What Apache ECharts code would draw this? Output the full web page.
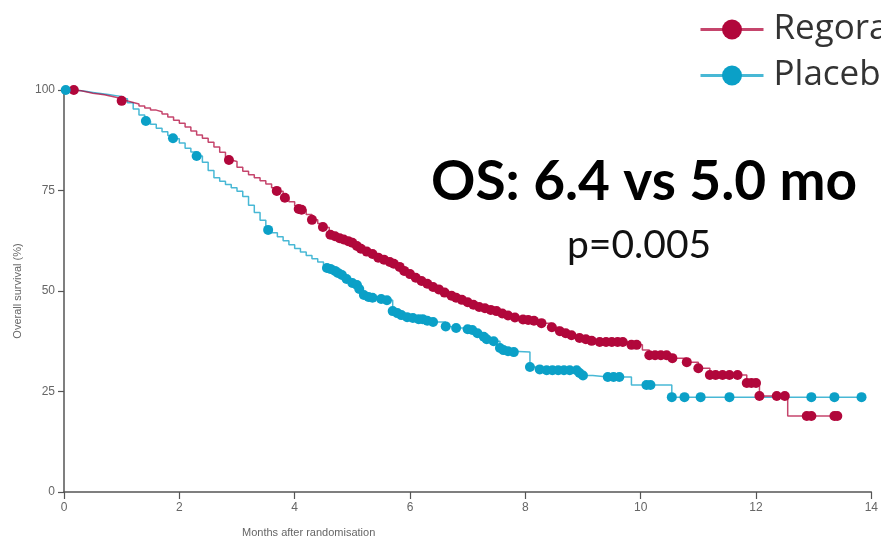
<!DOCTYPE html>
<html>
<head>
<meta charset="utf-8">
<script src="https://cdn.jsdelivr.net/npm/echarts@6/dist/echarts.min.js"></script>
<style>html,body{margin:0;padding:0;background:#fff;}#c{width:881px;height:539px;}</style>
</head>
<body>
<div id="c"></div>
<script>
// ---- data ----
const seriesNames = ['Regorafenib', 'Placebo'];
const xTicks = [0, 2, 4, 6, 8, 10, 12, 14];
const yTicks = [0, 25, 50, 75, 100];
const titleText = 'OS: 6.4 vs 5.0 mo';
const pText = 'p=0.005';
const xAxisName = 'Months after randomisation';
const yAxisName = 'Overall survival (%)';

// Kaplan-Meier step points [month, survival %]
const regoEvents = [
  [0,100],[0.1,100],[0.2,99.8],[0.3,99.5],[0.4,99.2],[0.5,99],[0.6,98.8],[0.7,98.5],[0.8,98.2],[0.9,97.8],
  [1.0,97.3],[1.1,96.9],[1.2,96.5],[1.3,96],[1.4,95.5],[1.5,95],[1.6,94.6],[1.7,94],[1.8,93.3],[1.9,92.5],
  [2.0,91.7],[2.1,90.8],[2.2,89.8],[2.3,88.8],[2.4,88],[2.5,87],[2.6,85.8],[2.7,84.5],[2.8,83.3],[2.9,82.2],
  [3.0,80.8],[3.1,79.8],[3.2,78.9],[3.3,78.2],[3.4,77.4],[3.5,76.6],[3.6,75.7],[3.7,74.8],[3.8,73.2],[3.9,72.2],
  [4.0,71.2],[4.1,70.2],[4.2,69],[4.3,67.7],[4.4,66.8],[4.5,65.8],[4.6,64.3],[4.9,62.5],[5.18,60],
  [5.45,58.3],[5.77,56.5],[5.95,54.5],[6.12,52.7],[6.4,51],[6.69,49],[6.95,47.5],[7.21,46],
  [7.5,45],[7.78,43.5],[8.0,42.8],[8.28,42],[8.46,41],[8.6,40],[8.8,39],[8.94,38.3],[9.29,37.3],
  [9.84,36.6],[10.03,35.3],[10.15,34],[10.55,33.3],[10.8,32.3],[11.0,30.8],[11.2,29.1],
  [11.84,27.1],[12.06,23.9],[12.55,18.9],[13.41,18.9]
];
const regoCensored = [
  [0.17,100],[1.0,97.3],[2.86,82.6],[3.69,74.9],[3.83,73.2],[4.07,70.4],[4.12,70.2],[4.3,67.7],[4.49,65.9],
  [4.62,64],[4.7,63.6],[4.78,63.1],[4.85,62.8],[4.93,62.4],[5.0,62],[5.08,61.2],[5.15,60.5],[5.25,59.8],
  [5.35,59.2],[5.45,58.3],[5.55,57.8],[5.65,57.2],[5.72,56.8],[5.82,56],[5.9,55],[6.0,54.2],[6.1,53.3],
  [6.2,52.5],[6.3,51.8],[6.4,51],[6.5,50.4],[6.6,49.6],[6.72,48.8],[6.8,48.3],[6.9,47.8],[7.0,47.2],
  [7.1,46.6],[7.2,46],[7.3,45.7],[7.4,45.3],[7.5,45],[7.6,44.4],[7.7,43.9],[7.82,43.4],[7.96,42.9],
  [8.05,42.8],[8.15,42.6],[8.28,42],[8.46,41],[8.6,40],[8.7,39.5],[8.8,39],[8.94,38.3],[9.05,38],
  [9.15,37.6],[9.29,37.3],[9.4,37.3],[9.5,37.3],[9.6,37.3],[9.69,37.3],[9.84,36.6],[9.93,36.6],
  [10.15,34],[10.25,34],[10.35,34],[10.45,34],[10.55,33.3],[10.8,32.3],[11.0,30.8],[11.2,29.1],
  [11.3,29.1],[11.42,29.1],[11.54,29.1],[11.68,29.1],[11.84,27.1],[11.92,27.1],[12.0,27.1],
  [12.06,23.9],[12.36,23.9],[12.5,23.9],[12.88,18.9],[12.96,18.9],[13.36,18.9],[13.41,18.9]
];
const placeboEvents = [
  [0,100],[0.1,100],[0.2,99.8],[0.3,99.6],[0.4,99.4],[0.5,99.2],[0.6,99],[0.7,98.8],[0.8,98.6],[0.9,98.4],
  [1.0,97.8],[1.1,96.8],[1.2,95.3],[1.3,93.8],[1.4,92.4],[1.5,91.5],[1.6,90.5],[1.7,89.6],[1.8,88.7],[1.9,87.9],
  [2.0,86.8],[2.1,85.5],[2.2,84.6],[2.3,83.6],[2.4,82],[2.5,80],[2.6,78.2],[2.7,77.3],[2.8,76.5],[2.9,75.7],
  [3.0,74.8],[3.1,73.5],[3.2,71.3],[3.3,69.5],[3.4,67.6],[3.5,65.8],[3.6,64.5],[3.7,63.5],[3.8,62.5],[3.9,61.5],
  [4.0,60.6],[4.1,59.7],[4.2,58.8],[4.3,58],[4.4,57.2],[4.5,56.3],[4.6,55.5],[4.75,54],[4.9,52.5],[5.05,50.5],
  [5.18,48.5],[5.48,47.8],[5.7,44.5],[6.05,43.3],[6.34,42.3],[6.69,40.8],[7.07,40.3],[7.21,38.6],
  [7.56,35.3],[7.78,34.8],[8.08,31.1],[8.47,30.3],[9.17,28.6],[9.84,26.6],[10.54,23.6],[13.83,23.6]
];
const placeboCensored = [
  [0.03,100],[1.42,92.3],[1.89,88],[2.3,83.6],[3.54,65.2],[4.56,55.7],[4.62,55.5],[4.7,55],[4.75,54.5],
  [4.82,54],[4.9,53],[5.0,52],[5.08,51.5],[5.12,50.5],[5.2,49],[5.28,48.5],[5.35,48.3],[5.5,48],
  [5.6,47.7],[5.7,45],[5.78,44.5],[5.85,44],[5.95,43.5],[6.05,43.3],[6.15,43],[6.22,43],[6.3,42.6],
  [6.4,42.3],[6.62,41.2],[6.8,40.8],[7.0,40.5],[7.08,40.3],[7.17,39.5],[7.28,38.6],[7.33,38],
  [7.45,37.5],[7.56,35.8],[7.62,35.3],[7.7,35],[7.8,34.8],[8.08,31.1],[8.25,30.5],[8.37,30.3],
  [8.47,30.3],[8.57,30.3],[8.67,30.3],[8.77,30.3],[8.89,30.3],[8.94,29.6],[9.0,29],[9.43,28.6],
  [9.53,28.6],[9.63,28.6],[10.1,26.6],[10.17,26.6],[10.54,23.6],[10.76,23.6],[11.04,23.6],
  [11.54,23.6],[12.96,23.6],[13.36,23.6],[13.83,23.6]
];

const colors = ['#b1073b', '#0ba0c7'];

function merge(ev, ce) {
  return ev.concat(ce).sort((a, b) => a[0] - b[0]);
}

const chart = echarts.init(document.getElementById('c'), null, { renderer: 'canvas' });
const labelFont = "'Liberation Sans Narrow', 'Liberation Sans', sans-serif";

const option = {
  animation: false,
  backgroundColor: '#ffffff',
  grid: { left: 64, right: 8, top: 90, bottom: 47, containLabel: false },
  legend: {
    orient: 'vertical',
    left: 694,
    top: 7,
    itemWidth: 63,
    itemHeight: 25,
    itemGap: 11,
    data: seriesNames,
    lineStyle: { width: 3 },
    textStyle: { fontSize: 35, color: '#333', padding: [0, 0, 0, 5], fontFamily: "'Open Sans', 'Lato', sans-serif" }
  },
  xAxis: {
    type: 'value', min: xTicks[0], max: xTicks[xTicks.length - 1], interval: 2,
    axisLine: { onZero: false, lineStyle: { color: '#555', width: 1.5 } },
    axisTick: { show: true, length: 7, lineStyle: { color: '#555', width: 1.2 } },
    axisLabel: { color: '#666', fontSize: 12, margin: 10, fontFamily: labelFont },
    splitLine: { show: false }
  },
  yAxis: {
    type: 'value', min: yTicks[0], max: yTicks[yTicks.length - 1], interval: 25,
    name: yAxisName, nameLocation: 'middle', nameGap: 41, nameRotate: 90,
    nameTextStyle: { color: '#666', fontSize: 11, fontFamily: labelFont },
    axisLine: { show: true, lineStyle: { color: '#555', width: 1.5 } },
    axisTick: { show: true, length: 6, lineStyle: { color: '#555', width: 1.2 } },
    axisLabel: { color: '#666', fontSize: 12, margin: 9, fontFamily: labelFont },
    splitLine: { show: false }
  },
  graphic: [
    { type: 'text', left: 431, top: 155, style: { text: titleText, fill: '#000', font: "bold 55px 'Lato', sans-serif" } },
    { type: 'text', left: 567, top: 226, style: { text: pText, fill: '#111', font: "39px 'Lato', sans-serif" } },
    { type: 'text', left: 242, top: 527, style: { text: xAxisName, fill: '#666', font: "11px 'Liberation Sans Narrow', sans-serif" } }
  ],
  series: [
    {
      name: seriesNames[0], type: 'line', step: 'end', data: merge(regoEvents, regoCensored),
      symbol: 'circle', symbolSize: 10, showSymbol: false,
      lineStyle: { color: colors[0], width: 1.5, opacity: 0.75 }, itemStyle: { color: colors[0] }, z: 3
    },
    {
      name: seriesNames[1], type: 'line', step: 'end', data: merge(placeboEvents, placeboCensored),
      symbol: 'circle', symbolSize: 10, showSymbol: false,
      lineStyle: { color: colors[1], width: 1.5, opacity: 0.75 }, itemStyle: { color: colors[1] }, z: 2
    },
    {
      name: seriesNames[0], type: 'scatter', data: regoCensored, symbol: 'circle', symbolSize: 10,
      itemStyle: { color: colors[0], opacity: 1 }, z: 4
    },
    {
      name: seriesNames[1], type: 'scatter', data: placeboCensored, symbol: 'circle', symbolSize: 10,
      itemStyle: { color: colors[1], opacity: 1 }, z: 4
    }
  ]
};
chart.setOption(option);
</script>
</body>
</html>
